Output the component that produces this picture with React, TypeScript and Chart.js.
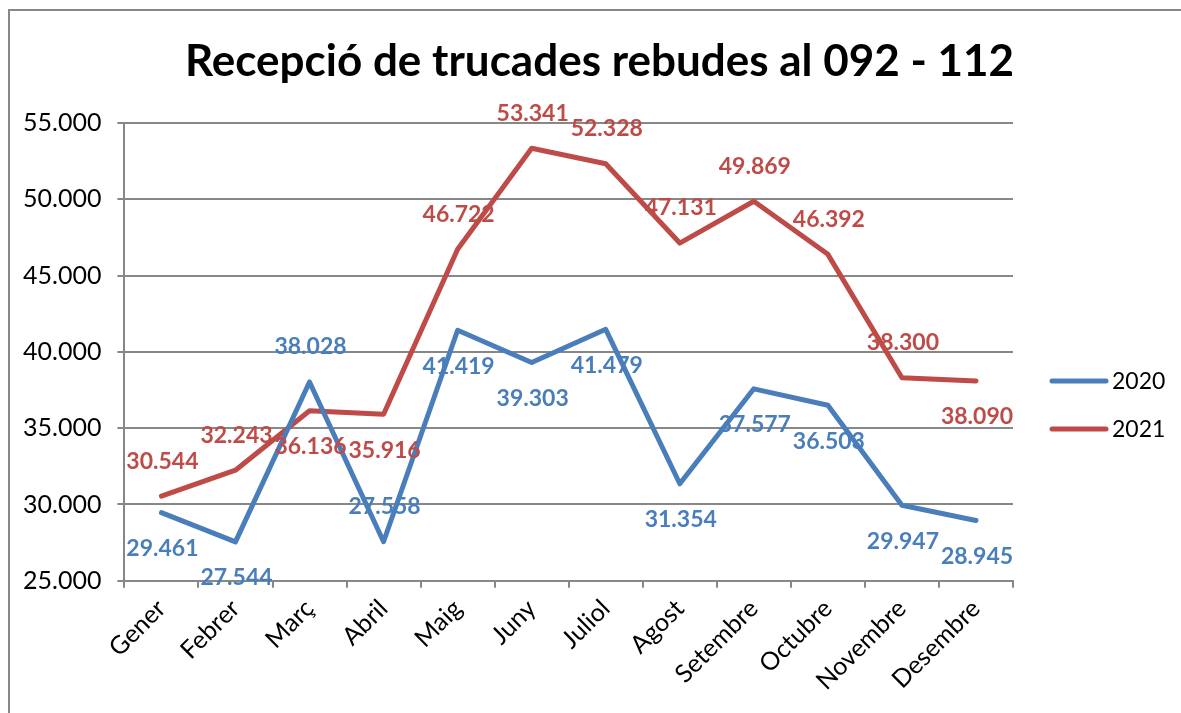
import React, { useEffect, useRef } from "react";
import { Chart, registerables } from "chart.js";

Chart.register(...registerables);

const TITLE = "Recepció de trucades rebudes al 092 - 112";
const months = ["Gener", "Febrer", "Març", "Abril", "Maig", "Juny", "Juliol", "Agost", "Setembre", "Octubre", "Novembre", "Desembre"];
const values2020 = [29461, 27544, 38028, 27558, 41419, 39303, 41479, 31354, 37577, 36503, 29947, 28945];
const values2021 = [30544, 32243, 36136, 35916, 46722, 53341, 52328, 47131, 49869, 46392, 38300, 38090];
const labelSide2020 = ["below", "below", "above", "above", "below", "below", "below", "below", "below", "below", "below", "below"];
const labelSide2021 = ["above", "above", "below", "below", "above", "above", "above", "above", "above", "above", "above", "below"];
const seriesNames = ["2020", "2021"];
const yMin = 25000;
const yMax = 55000;
const yStep = 5000;

const BLUE = "#4a7ebb";
const RED = "#be4b48";
const GRID = "#878787";
const FONT = "Lato, 'Open Sans', sans-serif";

function fmt(v: number): string {
  const s = Math.round(v).toString();
  return s.replace(/\B(?=(\d{3})+(?!\d))/g, ".");
}

const titlePlugin = {
  id: "centeredTitle",
  afterDraw(chart: any) {
    const ctx = chart.ctx;
    ctx.save();
    ctx.font = `bold 44px ${FONT}`;
    ctx.fillStyle = "#000";
    ctx.textAlign = "center";
    ctx.textBaseline = "middle";
    ctx.fillText(TITLE, chart.width / 2 + 9, 62);
    ctx.restore();
  },
};

const labelPlugin = {
  id: "pointLabels",
  afterDatasetsDraw(chart: any) {
    const ctx = chart.ctx;
    const sides = [labelSide2020, labelSide2021];
    chart.data.datasets.forEach((ds: any, di: number) => {
      const meta = chart.getDatasetMeta(di);
      ctx.save();
      ctx.font = `bold 23px ${FONT}`;
      ctx.fillStyle = ds.borderColor;
      ctx.textAlign = "center";
      ctx.textBaseline = "middle";
      meta.data.forEach((el: any, i: number) => {
        const off = sides[di][i] === "above" ? -35 : 36;
        ctx.fillText(fmt(ds.data[i]), el.x + 1, el.y + off);
      });
      ctx.restore();
    });
  },
};

const legendPlugin = {
  id: "sideLegend",
  afterDraw(chart: any) {
    const ctx = chart.ctx;
    const area = chart.chartArea;
    const x0 = area.right + 39;
    const ys = [381, 429];
    chart.data.datasets.forEach((ds: any, di: number) => {
      ctx.save();
      ctx.strokeStyle = ds.borderColor;
      ctx.lineWidth = 5;
      ctx.lineCap = "round";
      ctx.beginPath();
      ctx.moveTo(x0, ys[di]);
      ctx.lineTo(x0 + 54, ys[di]);
      ctx.stroke();
      ctx.fillStyle = "#000";
      ctx.font = `23px ${FONT}`;
      ctx.textAlign = "left";
      ctx.textBaseline = "middle";
      ctx.fillText(ds.label, x0 + 60, ys[di] + 1);
      ctx.restore();
    });
  },
};

export default function App() {
  const ref = useRef<HTMLCanvasElement | null>(null);

  useEffect(() => {
    if (!ref.current) return;
    const chart = new Chart(ref.current, {
      type: "line",
      data: {
        labels: months,
        datasets: [
          {
            label: seriesNames[0],
            data: values2020,
            borderColor: BLUE,
            backgroundColor: BLUE,
            borderWidth: 5,
            pointRadius: 0,
            tension: 0,
            borderJoinStyle: "round",
            borderCapStyle: "round",
          },
          {
            label: seriesNames[1],
            data: values2021,
            borderColor: RED,
            backgroundColor: RED,
            borderWidth: 5,
            pointRadius: 0,
            tension: 0,
            borderJoinStyle: "round",
            borderCapStyle: "round",
          },
        ],
      },
      options: {
        responsive: false,
        animation: false,
        layout: { padding: { left: 7, right: 168, top: 123, bottom: 11 } },
        plugins: {
          legend: { display: false },
          tooltip: { enabled: false },
          title: { display: false },
        },
        scales: {
          x: {
            offset: true,
            grid: {
              offset: true,
              drawOnChartArea: false,
              drawTicks: true,
              tickLength: 7,
              color: GRID,
              lineWidth: 2,
            },
            border: { display: true, color: GRID, width: 2 },
            ticks: {
              color: "#000",
              font: { family: FONT, size: 25 },
              minRotation: 45,
              maxRotation: 45,
              padding: 6,
            },
          },
          y: {
            min: yMin,
            max: yMax,
            grid: { color: GRID, lineWidth: 2, tickLength: 7 },
            border: { display: true, color: GRID, width: 2 },
            ticks: {
              stepSize: yStep,
              color: "#000",
              font: { family: FONT, size: 25 },
              padding: 16,
              callback: (v: any) => fmt(Number(v)),
            },
          },
        },
      },
      plugins: [labelPlugin, legendPlugin, titlePlugin],
    });
    return () => chart.destroy();
  }, []);

  return (
    <div style={{ position: "fixed", left: 0, top: 0, width: 1181, height: 713, background: "#fff", overflow: "hidden" }}>
      <div
        style={{
          position: "absolute",
          left: 8,
          top: 9,
          width: 1220,
          height: 760,
          border: "2px solid #878787",
        }}
      />
      <canvas ref={ref} width={1181} height={713} style={{ position: "absolute", left: 0, top: 0 }} />
    </div>
  );
}
